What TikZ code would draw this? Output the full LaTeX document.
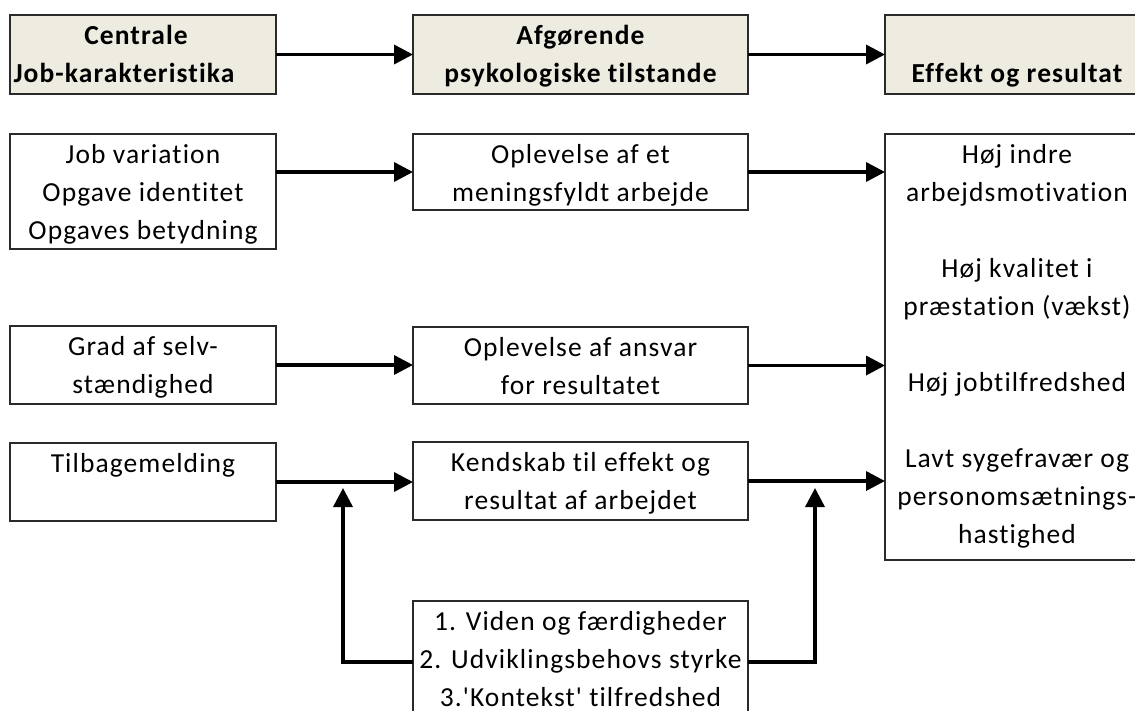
\documentclass[tikz,border=0pt]{standalone}
\usepackage{fontspec}
\setmainfont{Carlito}[Ligatures={TeXOff,CommonOff}, LetterSpace=4]
\usetikzlibrary{arrows.meta}
\definecolor{headfill}{HTML}{EEECE1}
\definecolor{boxline}{HTML}{2A2A2A}
% top-aligned, centred text block of a given width and height
\newcommand\boxtext[3]{\parbox[c][#2][t]{#1}{\centering\vspace*{2.5pt}\strut #3\par}}
\tikzset{
  plainbox/.style={draw=boxline, line width=1.6pt, fill=white, inner sep=0pt, outer sep=0pt, anchor=north west},
  headbox/.style={plainbox, fill=headfill, font=\fontsize{27.5pt}{38pt}\selectfont\bfseries},
  flow/.style={line width=3.5pt, -{Triangle[length=19pt,width=19pt]}},
}
\begin{document}
\begin{tikzpicture}[x=1pt, y=-1pt, font=\fontsize{27.5pt}{38pt}\selectfont]
\useasboundingbox (0,0) rectangle (1135,710);

% column headings
\node[headbox] (h1) at (10,15)  {\boxtext{266pt}{79pt}{\hspace*{-14pt}Centrale\\\leavevmode\hspace*{-38pt}Job-karakteristika}};
\node[headbox] (h2) at (413,15) {\boxtext{335pt}{79pt}{Afgørende\\psykologiske tilstande}};
\node[headbox] (h3) at (885,15) {\boxtext{264pt}{79pt}{\mbox{}\\Effekt og resultat}};

% job characteristics
\node[plainbox] (l1) at (10,134) {\boxtext{266pt}{115pt}{Job variation\\Opgave identitet\\Opgaves betydning}};
\node[plainbox] (l2) at (10,326) {\boxtext{266pt}{78pt}{Grad af selv-\\stændighed}};
\node[plainbox] (l3) at (10,443) {\boxtext{266pt}{78pt}{Tilbagemelding}};

% psychological states
\node[plainbox] (m1) at (413,134) {\boxtext{335pt}{76pt}{Oplevelse af et\\meningsfyldt arbejde}};
\node[plainbox] (m2) at (413,327) {\boxtext{335pt}{77pt}{Oplevelse af ansvar\\for resultatet}};
\node[plainbox] (m3) at (413,442) {\boxtext{335pt}{78pt}{Kendskab til effekt og\\resultat af arbejdet}};

% outcomes
\node[plainbox] (r) at (885,134) {\boxtext{264pt}{426pt}{Høj indre\\arbejdsmotivation\\\mbox{}\\Høj kvalitet i\\præstation (vækst)\\\mbox{}\\Høj jobtilfredshed\\\mbox{}\\Lavt sygefravær og\\personomsætnings-\\hastighed}};

% moderators
\node[plainbox] (b) at (413,601) {\boxtext{335pt}{122pt}{1. Viden og færdigheder\\2. Udviklingsbehovs styrke\\3.'Kontekst' tilfredshed}};

\coordinate (fbL) at (343,488);
\coordinate (fbR) at (815,488);

% connectors
\draw[flow] (h1.east) -- (h2.west);
\draw[flow] (h2.east) -- (h3.west);
\draw[flow] (l1.east |- m1.west) -- (m1.west);
\draw[flow] (m1.east) -- (m1.east -| r.west);
\draw[flow] (l2.east) -- (l2.east -| m2.west);
\draw[flow] (m2.east) -- (m2.east -| r.west);
\draw[flow] (l3.east) -- (l3.east -| m3.west);
\draw[flow] (m3.east) -- (m3.east -| r.west);
\draw[flow] (b.west) -| (fbL);
\draw[flow] (b.east) -| (fbR);
\end{tikzpicture}
\end{document}
